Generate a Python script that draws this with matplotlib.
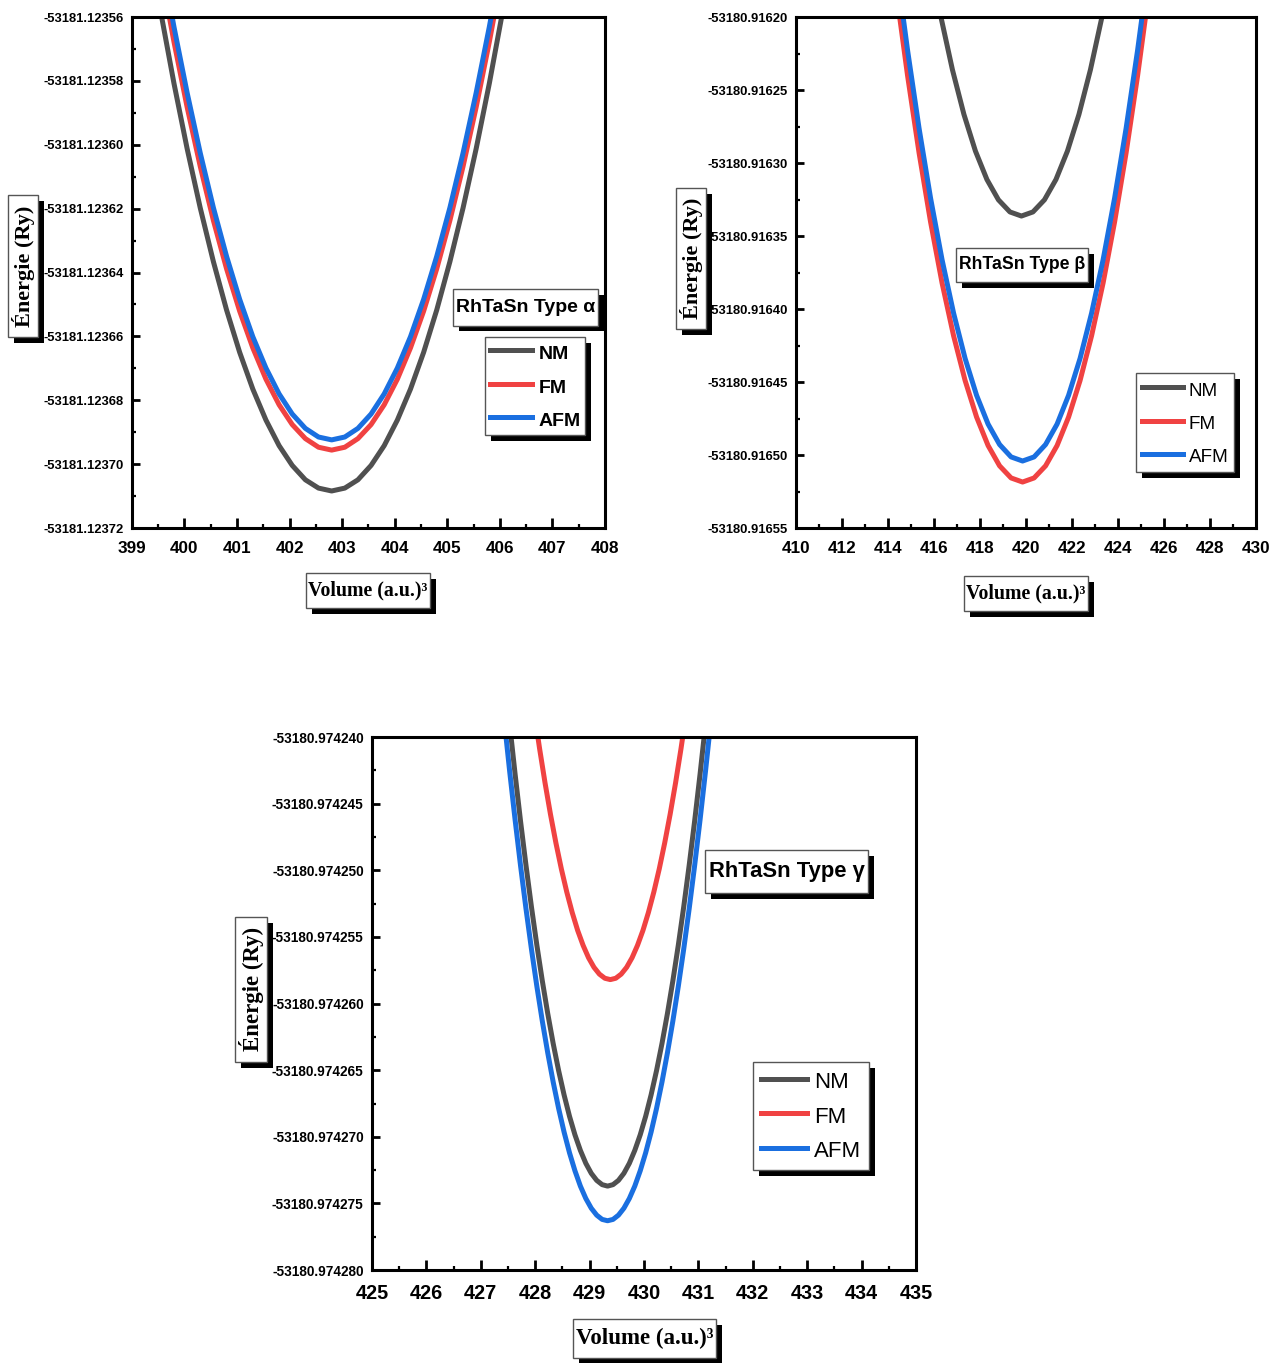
import matplotlib
matplotlib.use("Agg")
import matplotlib.pyplot as plt
from matplotlib import patheffects
from matplotlib.path import Path
from matplotlib.ticker import FixedLocator, AutoMinorLocator, FormatStrFormatter

# ---------------- RhTaSn type alpha ----------------
vol_alpha = [399.3, 399.55, 399.8, 400.05, 400.3, 400.55, 400.8, 401.05, 401.3, 401.55,
             401.8, 402.05, 402.3, 402.55, 402.8, 403.05, 403.3, 403.55, 403.8, 404.05,
             404.3, 404.55, 404.8, 405.05, 405.3, 405.55, 405.8, 406.05, 406.3]
e_alpha_nm = [-53181.1235347, -53181.1235586, -53181.1235808, -53181.1236012, -53181.1236198,
              -53181.1236366, -53181.1236517, -53181.1236650, -53181.1236765, -53181.1236862,
              -53181.1236942, -53181.1237004, -53181.1237049, -53181.1237075, -53181.1237084,
              -53181.1237075, -53181.1237049, -53181.1237004, -53181.1236942, -53181.1236862,
              -53181.1236765, -53181.1236650, -53181.1236517, -53181.1236366, -53181.1236198,
              -53181.1236012, -53181.1235808, -53181.1235586, -53181.1235347]
e_alpha_fm = [-53181.1235216, -53181.1235456, -53181.1235678, -53181.1235882, -53181.1236068,
              -53181.1236237, -53181.1236388, -53181.1236521, -53181.1236636, -53181.1236734,
              -53181.1236814, -53181.1236876, -53181.1236920, -53181.1236947, -53181.1236956,
              -53181.1236947, -53181.1236920, -53181.1236876, -53181.1236814, -53181.1236734,
              -53181.1236636, -53181.1236521, -53181.1236388, -53181.1236237, -53181.1236068,
              -53181.1235882, -53181.1235678, -53181.1235456, -53181.1235216]
e_alpha_afm = [-53181.1235164, -53181.1235406, -53181.1235631, -53181.1235837, -53181.1236026,
               -53181.1236197, -53181.1236349, -53181.1236484, -53181.1236601, -53181.1236699,
               -53181.1236780, -53181.1236843, -53181.1236888, -53181.1236915, -53181.1236924,
               -53181.1236915, -53181.1236888, -53181.1236843, -53181.1236780, -53181.1236699,
               -53181.1236601, -53181.1236484, -53181.1236349, -53181.1236197, -53181.1236026,
               -53181.1235837, -53181.1235631, -53181.1235406, -53181.1235164]
xticks_alpha = [399, 400, 401, 402, 403, 404, 405, 406, 407, 408]
yticks_alpha = [-53181.12372, -53181.12370, -53181.12368, -53181.12366, -53181.12364,
                -53181.12362, -53181.12360, -53181.12358, -53181.12356]

# ---------------- RhTaSn type beta ----------------
vol_beta_nm = [415.8, 416.3, 416.8, 417.3, 417.8, 418.3, 418.8, 419.3, 419.8,
               420.3, 420.8, 421.3, 421.8, 422.3, 422.8, 423.3, 423.8]
e_beta_nm = [-53180.9161582, -53180.9162000, -53180.9162361, -53180.9162667, -53180.9162918,
             -53180.9163113, -53180.9163252, -53180.9163335, -53180.9163363,
             -53180.9163335, -53180.9163252, -53180.9163113, -53180.9162918, -53180.9162667,
             -53180.9162361, -53180.9162000, -53180.9161582]
vol_beta = [413.85, 414.35, 414.85, 415.35, 415.85, 416.35, 416.85, 417.35, 417.85, 418.35,
            418.85, 419.35, 419.85, 420.35, 420.85, 421.35, 421.85, 422.35, 422.85, 423.35,
            423.85, 424.35, 424.85, 425.35, 425.85]
e_beta_fm = [-53180.9161178, -53180.9161818, -53180.9162402, -53180.9162931, -53180.9163404,
             -53180.9163822, -53180.9164183, -53180.9164489, -53180.9164740, -53180.9164935,
             -53180.9165074, -53180.9165157, -53180.9165185, -53180.9165157, -53180.9165074,
             -53180.9164935, -53180.9164740, -53180.9164489, -53180.9164183, -53180.9163822,
             -53180.9163404, -53180.9162931, -53180.9162402, -53180.9161818, -53180.9161178]
e_beta_afm = [-53180.9160991, -53180.9161638, -53180.9162228, -53180.9162763, -53180.9163241,
              -53180.9163663, -53180.9164028, -53180.9164338, -53180.9164591, -53180.9164788,
              -53180.9164928, -53180.9165013, -53180.9165041, -53180.9165013, -53180.9164928,
              -53180.9164788, -53180.9164591, -53180.9164338, -53180.9164028, -53180.9163663,
              -53180.9163241, -53180.9162763, -53180.9162228, -53180.9161638, -53180.9160991]
xticks_beta = [410, 412, 414, 416, 418, 420, 422, 424, 426, 428, 430]
yticks_beta = [-53180.91655, -53180.91650, -53180.91645, -53180.91640, -53180.91635,
               -53180.91630, -53180.91625, -53180.91620]

# ---------------- RhTaSn type gamma ----------------
vol_gamma = [427.33, 427.43, 427.53, 427.63, 427.73, 427.83, 427.93, 428.03, 428.13, 428.23,
             428.33, 428.43, 428.53, 428.63, 428.73, 428.83, 428.93, 429.03, 429.13, 429.23,
             429.33, 429.43, 429.53, 429.63, 429.73, 429.83, 429.93, 430.03, 430.13, 430.23,
             430.33, 430.43, 430.53, 430.63, 430.73, 430.83, 430.93, 431.03, 431.13, 431.23,
             431.33]
e_gamma_nm = [-53180.97423090, -53180.97423507, -53180.97423903, -53180.97424278, -53180.97424631,
              -53180.97424962, -53180.97425273, -53180.97425562, -53180.97425829, -53180.97426075,
              -53180.97426300, -53180.97426503, -53180.97426685, -53180.97426846, -53180.97426985,
              -53180.97427102, -53180.97427199, -53180.97427274, -53180.97427327, -53180.97427359,
              -53180.97427370,
              -53180.97427359, -53180.97427327, -53180.97427274, -53180.97427199, -53180.97427102,
              -53180.97426985, -53180.97426846, -53180.97426685, -53180.97426503, -53180.97426300,
              -53180.97426075, -53180.97425829, -53180.97425562, -53180.97425273, -53180.97424962,
              -53180.97424631, -53180.97424278, -53180.97423903, -53180.97423507, -53180.97423090]
e_gamma_afm = [-53180.97423466, -53180.97423872, -53180.97424257, -53180.97424621, -53180.97424965,
               -53180.97425288, -53180.97425590, -53180.97425871, -53180.97426131, -53180.97426370,
               -53180.97426589, -53180.97426787, -53180.97426964, -53180.97427120, -53180.97427255,
               -53180.97427370, -53180.97427463, -53180.97427536, -53180.97427588, -53180.97427620,
               -53180.97427630,
               -53180.97427620, -53180.97427588, -53180.97427536, -53180.97427463, -53180.97427370,
               -53180.97427255, -53180.97427120, -53180.97426964, -53180.97426787, -53180.97426589,
               -53180.97426370, -53180.97426131, -53180.97425871, -53180.97425590, -53180.97425288,
               -53180.97424965, -53180.97424621, -53180.97424257, -53180.97423872, -53180.97423466]
vol_gamma_fm = [427.88, 427.98, 428.08, 428.18, 428.28, 428.38, 428.48, 428.58, 428.68, 428.78,
                428.88, 428.98, 429.08, 429.18, 429.28, 429.38, 429.48, 429.58, 429.68, 429.78,
                429.88, 429.98, 430.08, 430.18, 430.28, 430.38, 430.48, 430.58, 430.68, 430.78,
                430.88]
e_gamma_fm = [-53180.97423511, -53180.97423809, -53180.97424086, -53180.97424343, -53180.97424579,
              -53180.97424794, -53180.97424989, -53180.97425163, -53180.97425317, -53180.97425451,
              -53180.97425563, -53180.97425656, -53180.97425728, -53180.97425779, -53180.97425810,
              -53180.97425820,
              -53180.97425810, -53180.97425779, -53180.97425728, -53180.97425656, -53180.97425563,
              -53180.97425451, -53180.97425317, -53180.97425163, -53180.97424989, -53180.97424794,
              -53180.97424579, -53180.97424343, -53180.97424086, -53180.97423809, -53180.97423511]
xticks_gamma = [425, 426, 427, 428, 429, 430, 431, 432, 433, 434, 435]
yticks_gamma = [-53180.974280, -53180.974275, -53180.974270, -53180.974265, -53180.974260,
                -53180.974255, -53180.974250, -53180.974245, -53180.974240]

labels = ["NM", "FM", "AFM"]
colors = ["#505050", "#f04242", "#1a6fe0"]

SANS = ["Liberation Sans", "DejaVu Sans"]
SERIF = ["Liberation Serif", "DejaVu Serif"]
plt.rcParams["font.family"] = SANS


def rect_box(pad_x, pad_y):
    # square frame with separate padding along / across the text
    def style(x0, y0, width, height, mutation_size):
        px, py = pad_x * mutation_size, pad_y * mutation_size
        x0, y0 = x0 - px, y0 - py
        x1, y1 = x0 + width + 2 * px, y0 + height + 2 * py
        return Path([(x0, y0), (x1, y0), (x1, y1), (x0, y1), (x0, y0)], closed=True)
    return style


def shadow(artist, off=4.3):
    artist.set_path_effects([patheffects.withSimplePatchShadow(
        offset=(off, -off), shadow_rgbFace="black", alpha=1.0)])


def boxed(ax, x, y, txt, size, family, pads, rot=0):
    t = ax.text(x, y, txt, transform=ax.transAxes, rotation=rot, ha="center", va="center",
                fontsize=size, fontweight="bold", family=family,
                bbox=dict(boxstyle=rect_box(*pads), fc="white", ec="#555555", lw=1.0))
    shadow(t.get_bbox_patch())
    return t


def panel(rect, curves, xticks, yticks, yfmt, sizes, title, title_pos, leg_pos,
          leg_bold, leg_layout, ylab_pos, xlab_pos, xpad):
    xs, ys, ts, ls, xl, lg = sizes
    hl, hh, sp_, bp = leg_layout
    ax = fig.add_axes(rect)
    for (v, e), lab, c in zip(curves, labels, colors):
        ax.plot(v, e, color=c, lw=3.6, label=lab)
    ax.set_xlim(xticks[0], xticks[-1])
    ax.set_ylim(yticks[0], yticks[-1])
    ax.xaxis.set_major_locator(FixedLocator(xticks))
    ax.yaxis.set_major_locator(FixedLocator(yticks))
    ax.xaxis.set_minor_locator(AutoMinorLocator(2))
    ax.yaxis.set_minor_locator(AutoMinorLocator(2))
    ax.yaxis.set_major_formatter(FormatStrFormatter(yfmt))
    ax.tick_params(which="both", direction="in", top=False, right=False)
    ax.tick_params(which="major", length=6, width=2.0)
    ax.tick_params(which="minor", length=3, width=1.6)
    ax.tick_params(axis="x", which="major", length=7, pad=xpad, labelsize=xs)
    ax.tick_params(axis="y", which="major", pad=6, labelsize=ys)
    for lbl in ax.get_xticklabels() + ax.get_yticklabels():
        lbl.set_fontweight("bold")
    for sp in ax.spines.values():
        sp.set_linewidth(2.2)

    boxed(ax, title_pos[0], title_pos[1], title, ts, SANS, (0.15, 0.5))
    boxed(ax, ylab_pos[0], ylab_pos[1], "Énergie (Ry)", ls, SERIF, (0.45, 0.16), rot=90)
    boxed(ax, xlab_pos[0], xlab_pos[1], "Volume (a.u.)³", xl, SERIF, (0.12, 0.38))

    leg = ax.legend(loc="upper left", bbox_to_anchor=leg_pos, borderaxespad=0,
                    fancybox=False, framealpha=1, edgecolor="#555555",
                    handlelength=hl, handleheight=hh, handletextpad=0.3, labelspacing=sp_,
                    borderpad=bp, prop=dict(size=lg, weight="bold" if leg_bold else "normal"))
    leg.get_frame().set_linewidth(1.0)
    shadow(leg.get_frame())
    for h in leg.get_lines():
        h.set_linewidth(3.6)
    return ax


fig = plt.figure(figsize=(12.86, 13.63), dpi=100)

panel([0.1026, 0.6126, 0.3678, 0.3749],
      [(vol_alpha, e_alpha_nm), (vol_alpha, e_alpha_fm), (vol_alpha, e_alpha_afm)],
      xticks_alpha, yticks_alpha, "%.5f", (12.3, 9.4, 14, 16, 14.3, 14),
      "RhTaSn Type α", (0.832, 0.432), (0.746, 0.374), True, (2.2, 1.35, 0.6, 0.25),
      (-0.230, 0.513), (0.499, -0.123), 9)

panel([0.6190, 0.6126, 0.3577, 0.3749],
      [(vol_beta_nm, e_beta_nm), (vol_beta, e_beta_fm), (vol_beta, e_beta_afm)],
      xticks_beta, yticks_beta, "%.5f", (12.3, 9.4, 12.7, 16, 14.3, 13.6),
      "RhTaSn Type β", (0.491, 0.515), (0.739, 0.303), False, (2.2, 1.35, 0.64, 0.3),
      (-0.228, 0.528), (0.500, -0.129), 9)

panel([0.2893, 0.0682, 0.4230, 0.3910],
      [(vol_gamma, e_gamma_nm), (vol_gamma_fm, e_gamma_fm), (vol_gamma, e_gamma_afm)],
      xticks_gamma, yticks_gamma, "%.6f", (14.3, 9.8, 15.8, 16.5, 16.5, 16),
      "RhTaSn Type γ", (0.762, 0.747), (0.700, 0.390), False, (2.1, 1.1, 0.5, 0.35),
      (-0.222, 0.527), (0.501, -0.128), 10)

fig.savefig("out.png", dpi=100, facecolor="white")
